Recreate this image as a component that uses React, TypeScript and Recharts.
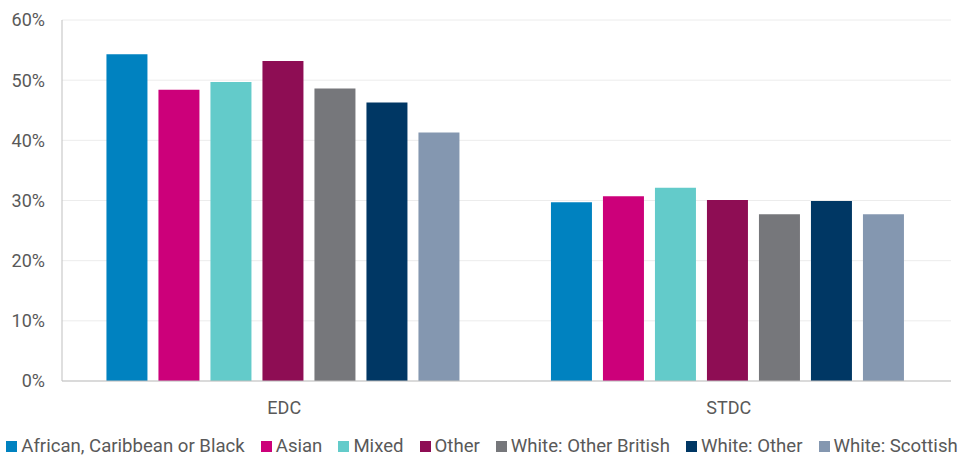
import { BarChart, Bar, XAxis, YAxis, CartesianGrid, Legend } from 'recharts';

const categories = ['EDC', 'STDC'];
const groups = [
  'African, Caribbean or Black',
  'Asian',
  'Mixed',
  'Other',
  'White: Other British',
  'White: Other',
  'White: Scottish',
];
const africanCaribbeanBlack = [54.3, 29.7];
const asian = [48.4, 30.7];
const mixed = [49.7, 32.1];
const other = [53.2, 30.1];
const whiteOtherBritish = [48.6, 27.7];
const whiteOther = [46.3, 29.9];
const whiteScottish = [41.3, 27.7];
const yTicks = [0, 10, 20, 30, 40, 50, 60];

const seriesValues = [
  africanCaribbeanBlack,
  asian,
  mixed,
  other,
  whiteOtherBritish,
  whiteOther,
  whiteScottish,
];
const colors = ['#0082C0', '#CC007A', '#63CBCA', '#8E0D54', '#76777B', '#003764', '#8497B0'];

const data = categories.map((name, i) => {
  const row: Record<string, string | number> = { name };
  groups.forEach((g, j) => {
    row[g] = seriesValues[j][i];
  });
  return row;
});

const FONT = 'Roboto, sans-serif';
const TEXT = '#595959';

// legend drawn by hand so the order follows the series order
const renderLegend = () => (
  <div
    style={{
      display: 'flex',
      justifyContent: 'center',
      gap: 16,
      fontSize: 18.6,
      lineHeight: '22px',
      color: TEXT,
      fontFamily: FONT,
      whiteSpace: 'nowrap',
    }}
  >
    {groups.map((g, j) => (
      <span key={g} style={{ display: 'flex', alignItems: 'center' }}>
        <span
          style={{ width: 11, height: 11, background: colors[j], marginRight: 4, display: 'inline-block' }}
        />
        {g}
      </span>
    ))}
  </div>
);

export default function App() {
  return (
    <div style={{ position: 'absolute', left: 0, top: 0, fontFamily: FONT }}>
      <BarChart
        width={964}
        height={457}
        data={data}
        margin={{ top: 20, right: 13, left: 0, bottom: 0 }}
        barCategoryGap="10%"
        barGap={11}
      >
        <CartesianGrid vertical={false} stroke="#ececec" />
        <XAxis
          dataKey="name"
          height={40}
          tickLine={false}
          axisLine={{ stroke: '#bfbfbf' }}
          tick={{ fill: TEXT, fontSize: 18, fontFamily: FONT }}
          tickMargin={14}
        />
        <YAxis
          width={62}
          domain={[0, 60]}
          ticks={yTicks}
          tickFormatter={(v: number) => `${v}%`}
          tickLine={false}
          tickSize={0}
          tickMargin={17}
          axisLine={{ stroke: '#bfbfbf' }}
          tick={{ fill: TEXT, fontSize: 18, fontFamily: FONT }}
        />
        <Legend
          verticalAlign="bottom"
          height={36}
          content={renderLegend}
          wrapperStyle={{ top: 435, left: 0, width: 964 }}
        />
        {groups.map((g, j) => (
          <Bar key={g} dataKey={g} fill={colors[j]} isAnimationActive={false} />
        ))}
      </BarChart>
    </div>
  );
}
